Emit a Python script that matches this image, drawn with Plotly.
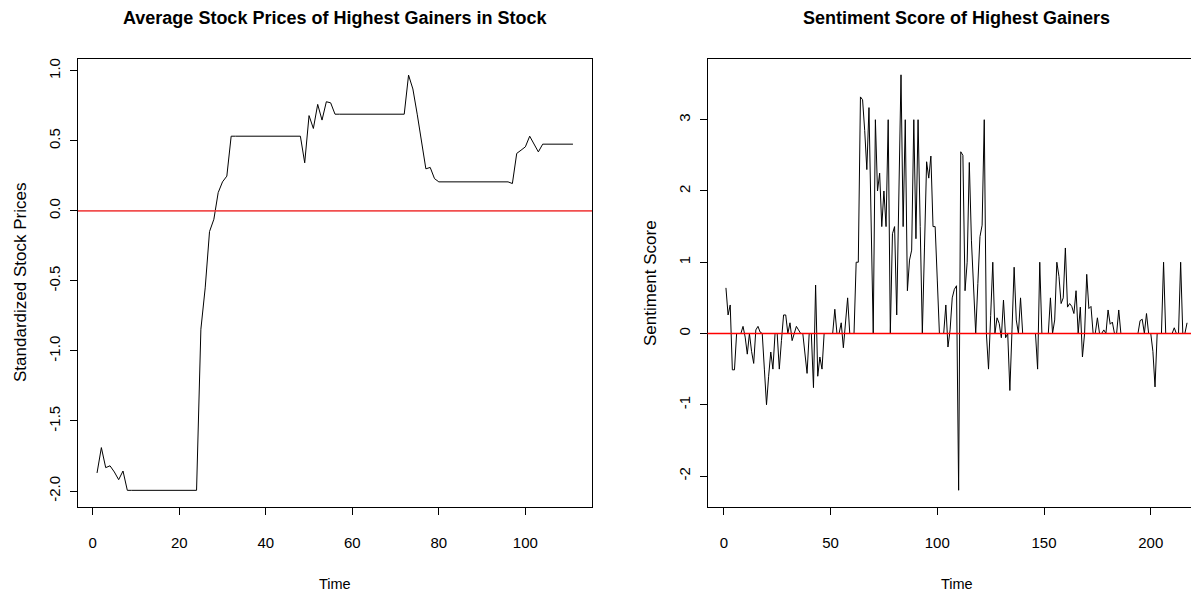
import plotly.graph_objects as go

# ---------------- data ----------------
price = [
    -1.871, -1.69, -1.833, -1.82, -1.864, -1.919, -1.857, -1.995,
    -1.995, -1.995, -1.995, -1.995, -1.995, -1.995, -1.995, -1.995,
    -1.995, -1.995, -1.995, -1.995, -1.995, -1.995, -1.995, -1.995,
    -0.845, -0.55, -0.148, -0.06, 0.13, 0.207, 0.248, 0.533,
    0.533, 0.533, 0.533, 0.533, 0.533, 0.533, 0.533, 0.533,
    0.533, 0.533, 0.533, 0.533, 0.533, 0.533, 0.533, 0.533,
    0.343, 0.68, 0.588, 0.76, 0.648, 0.779, 0.771, 0.69,
    0.69, 0.69, 0.69, 0.69, 0.69, 0.69, 0.69, 0.69,
    0.69, 0.69, 0.69, 0.69, 0.69, 0.69, 0.69, 0.69,
    0.969, 0.87, 0.69, 0.48, 0.30, 0.31, 0.23, 0.207,
    0.207, 0.207, 0.207, 0.207, 0.207, 0.207, 0.207, 0.207,
    0.207, 0.207, 0.207, 0.207, 0.207, 0.207, 0.207, 0.207,
    0.195, 0.41, 0.433, 0.457, 0.533, 0.481, 0.421, 0.476,
    0.476, 0.476, 0.476, 0.476, 0.476, 0.476, 0.476,
]

sentiment = [
    0.64, 0.26, 0.40, -0.51, -0.51, 0, 0, 0, 0.10, -0.05,
    -0.29, 0, -0.25, -0.42, 0.05, 0.10, 0.02, 0, -0.5, -1.0,
    -0.6, -0.26, -0.5, 0, 0, -0.5, -0.1, 0.26, 0.26, 0,
    0.15, -0.1, 0, 0.1, 0.05, 0, 0, -0.25, -0.56, 0,
    0, -0.76, 0.68, -0.6, -0.33, -0.5, 0, 0, 0, 0,
    0, 0.34, 0, 0, 0.15, -0.2, 0.15, 0.5, 0, 0,
    0, 1.0, 1.0, 3.32, 3.28, 2.85, 2.3, 3.17, 1.6, 0,
    3.0, 2.0, 2.25, 1.5, 2.0, 1.5, 3.0, 0, 1.4, 1.5,
    0.26, 2.0, 3.63, 1.5, 3.0, 0.6, 1.03, 1.17, 3.0, 1.33,
    3.0, 1.5, 0, 1.2, 2.41, 2.18, 2.49, 1.5, 1.5, 0.75,
    0, 0, 0, 0.4, -0.19, 0.05, 0.5, 0.62, 0.67, -2.2,
    2.55, 2.5, 0.6, 1.0, 2.4, 1.3, 0.65, 0, 0.7, 1.36,
    1.52, 3.0, 0, -0.5, 0.25, 1.0, 0, 0.22, 0.14, -0.06,
    0.47, -0.06, 0, -0.8, 0.05, 0.93, 0.19, 0, 0.5, 0,
    0, 0, 0, 0, 0, 0, -0.5, 1.0, 0, 0,
    0, 0, 0.5, 0, 0.19, 1.0, 0.8, 0.42, 0.5, 1.2,
    0.37, 0.42, 0.38, 0.28, 0.6, 0, 0.37, -0.33, 0, 0.83,
    0.35, 0.38, 0, 0, 0.22, 0, 0, 0.05, 0, 0.33,
    0.13, 0.16, 0, 0, 0.33, 0, 0, 0, 0, 0,
    0, 0, 0, 0, 0.18, 0.2, 0, 0.28, 0, 0,
    -0.25, -0.75, 0, 0, 0, 1.0, 0, 0, 0, 0,
    0.08, 0, 0, 1.0, 0, 0, 0.15,
]

time_price = list(range(1, len(price) + 1))
time_sent = list(range(1, len(sentiment) + 1))

price_xticks = [0, 20, 40, 60, 80, 100]
price_yticks = [-2.0, -1.5, -1.0, -0.5, 0.0, 0.5, 1.0]
price_ytext = ["-2.0", "-1.5", "-1.0", "-0.5", "0.0", "0.5", "1.0"]
sent_xticks = [0, 50, 100, 150, 200]
sent_yticks = [-2, -1, 0, 1, 2, 3]
sent_ytext = ["-2", "-1", "0", "1", "2", "3"]

title_left = "Average Stock Prices of Highest Gainers in Stock"
title_right = "Sentiment Score of Highest Gainers"
ylab_left = "Standardized Stock Prices"
ylab_right = "Sentiment Score"
xlab = "Time"

# ---------------- layout ----------------
# the page body adds an 8px margin, so the figure is drawn 8px in from the window corner
OFF = 8
W, H = 1199 - OFF, 594 - OFF
FONT = "Liberation Sans, Arial, Helvetica, sans-serif"

def fx(p):  # window x pixel -> paper fraction
    return (p - OFF) / W

def fy(p):  # window y pixel -> paper fraction
    return 1 - (p - OFF) / H

box_top, box_bot = 59, 507
L_left, L_right = 78, 592
R_left, R_right = 707.5, 1205.5

fig = go.Figure()
fig.add_trace(go.Scatter(x=time_price, y=price, mode="lines",
                         line=dict(color="black", width=1),
                         xaxis="x", yaxis="y", showlegend=False, hoverinfo="skip"))
fig.add_trace(go.Scatter(x=time_sent, y=sentiment, mode="lines",
                         line=dict(color="black", width=1),
                         xaxis="x2", yaxis="y2", showlegend=False, hoverinfo="skip"))

common = dict(showline=True, linecolor="black", linewidth=1, ticks="outside",
              ticklen=7, tickwidth=1, tickcolor="black", showgrid=False,
              zeroline=False, tickfont=dict(family=FONT, size=15, color="black"),
              fixedrange=True)

ydom = [fy(box_bot), fy(box_top)]
# right box extends past the window edge: clip the axis at the window edge
r_span_px = R_right - R_left
r_range = [-7.64, 225.64]
r_cut = r_range[0] + (1199 - R_left) / r_span_px * (r_range[1] - r_range[0])

fig.update_layout(
    width=W, height=H, autosize=False,
    margin=dict(l=0, r=0, t=0, b=0),
    paper_bgcolor="white", plot_bgcolor="white",
    showlegend=False,
    xaxis=dict(common, domain=[fx(L_left), fx(L_right)], range=[-3.4, 115.4],
               tickmode="array", tickvals=price_xticks, mirror=True, anchor="y",
               ticklabelstandoff=15),
    yaxis=dict(common, domain=ydom, range=[-2.114, 1.084], tickmode="array",
               tickvals=price_yticks, ticktext=price_ytext, tickangle=-90,
               mirror=True, anchor="x", ticklabelstandoff=4),
    xaxis2=dict(common, domain=[fx(R_left), 1.0], range=[r_range[0], r_cut],
                tickmode="array", tickvals=sent_xticks, mirror=True, anchor="y2",
                ticklabelstandoff=15),
    yaxis2=dict(common, domain=ydom, range=[-2.435, 3.852], tickmode="array",
                tickvals=sent_yticks, ticktext=sent_ytext, tickangle=-90,
                anchor="x2", ticklabelstandoff=4),
    shapes=[
        dict(type="line", xref="x domain", x0=0, x1=1, yref="y", y0=0, y1=0,
             line=dict(color="rgba(240,60,60,0.9)", width=1.6), layer="above"),
        dict(type="line", xref="x2 domain", x0=0, x1=1, yref="y2", y0=0, y1=0,
             line=dict(color="#ff0000", width=1.5), layer="above"),
    ],
)

ann_font_title = dict(family=FONT, size=18, color="black")
ann_font_x = dict(family=FONT, size=14.5, color="black")
ann_font_y = dict(family=FONT, size=17, color="black")
cx_left = (L_left + L_right) / 2
cx_right = (R_left + R_right) / 2
cy = (box_top + box_bot) / 2

annotations = [
    dict(text="<b>" + title_left + "</b>", x=fx(cx_left), y=fy(18.5), font=ann_font_title),
    dict(text="<b>" + title_right + "</b>", x=fx(cx_right), y=fy(18.5), font=ann_font_title),
    dict(text=xlab, x=fx(cx_left), y=fy(584), font=ann_font_x),
    dict(text=xlab, x=fx(cx_right), y=fy(584), font=ann_font_x),
    dict(text=ylab_left, x=fx(20), y=fy(cy), font=ann_font_y, textangle=-90),
    dict(text=ylab_right, x=fx(650), y=fy(cy), font=ann_font_y, textangle=-90),
]
for a in annotations:
    a.update(xref="paper", yref="paper", xanchor="center", yanchor="middle",
             showarrow=False)
fig.update_layout(annotations=annotations)

fig.write_html("out.html", config={"displayModeBar": False})
